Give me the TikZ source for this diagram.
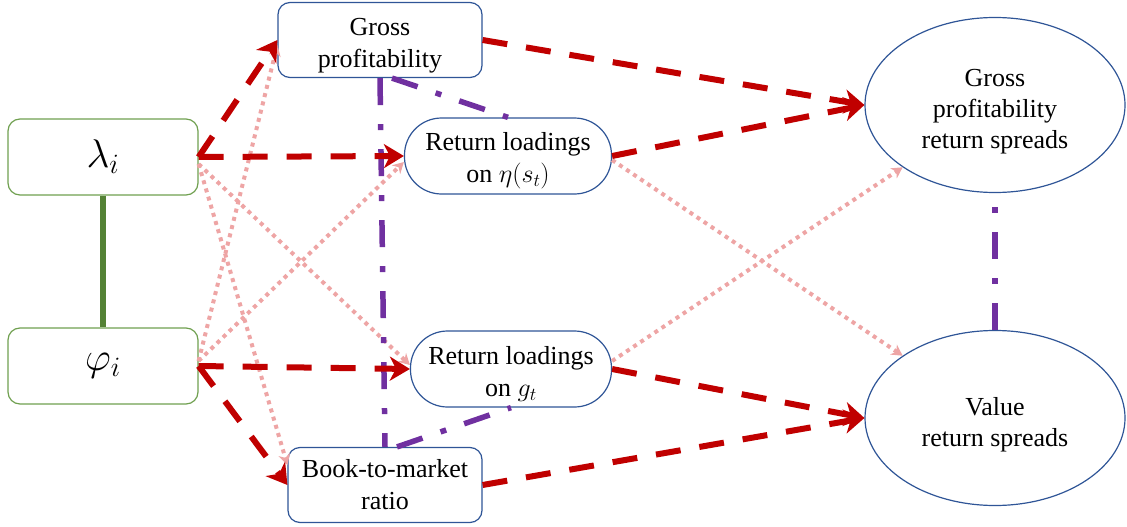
\RequirePackage{fix-cm}
\documentclass[tikz,border=0pt]{standalone}
\usepackage{fontspec}
\setmainfont{Liberation Serif}
\usetikzlibrary{shapes.geometric,arrows.meta}

\definecolor{krasn}{RGB}{192,0,0}
\definecolor{rozov}{RGB}{238,165,165}
\definecolor{fiol}{RGB}{112,48,160}
\definecolor{zel}{RGB}{84,130,53}
\definecolor{zelkr}{RGB}{112,160,80}
\definecolor{sin}{RGB}{47,85,151}
% невидимая подпорка для сдвига текста вниз
\newcommand\vstr[1]{\rule{0pt}{#1}}

\begin{document}
\begin{tikzpicture}
      [x=1pt,y=-1pt
    % стили узлов
      ,fac/.style={draw=zelkr,line width=1.2pt,rounded corners=12pt,fill=white,minimum width=190pt,minimum height=76pt,inner sep=0pt,font=\fontsize{40}{40}\selectfont}
      ,box/.style={draw=sin,line width=1.2pt,rounded corners=12pt,fill=white,align=center,inner sep=0pt,font=\fontsize{26}{32}\selectfont}
      ,pill/.style={box,rounded corners=37pt}
      ,ell/.style={draw=sin,line width=1.2pt,ellipse,fill=white,align=center,inner sep=0pt,minimum width=260pt,minimum height=175pt,font=\fontsize{26}{31}\selectfont}
    % стили линий
      ,rd/.style={draw=krasn,line width=6pt,dash pattern=on 25pt off 19pt,-{Stealth[length=20pt,width=24pt,inset=6pt]}}
      ,pk/.style={draw=rozov,line width=4pt,dash pattern=on 4pt off 4.5pt,-{Stealth[length=11pt,width=12pt]}}
      ,pu/.style={draw=fiol,line width=5.5pt,dash pattern=on 27pt off 19pt on 6pt off 19pt}
      ,gr/.style={draw=zel,line width=6pt}
      ]
        \useasboundingbox (0,0) rectangle (1127,527);

        \node[fac] (lam) at (103,157) {$\lambda_i$};
        \node[fac] (phi) at (103,366) {$\varphi_i$};
        \node[box,minimum width=204pt,minimum height=75pt] (gp) at (380,40) {\vstr{28pt}Gross\\profitability};
        \node[pill,minimum width=207pt,minimum height=76pt] (rleta) at (508,156) {\vstr{28pt}Return loadings\\on $\eta(s_t)$};
        \node[pill,minimum width=201pt,minimum height=76pt] (rlg) at (511,369) {\vstr{28pt}Return loadings\\on $g_t$};
        \node[box,minimum width=194pt,minimum height=75pt] (bm) at (385,485) {Book-to-market\\ratio};
        \node[ell] (gprs) at (995,105) {\vstr{30pt}Gross\\profitability\\return spreads};
        \node[ell] (vrs) at (995,418) {\vstr{32pt}Value\\return spreads};

        \draw[gr] (lam) -- (phi);

    % точечные связи
        \draw[pk] ([yshift=-7pt]lam.east) -- ([yshift=4pt]rlg.west);
        \draw[pk] ([yshift=-7pt]lam.east) -- ([yshift=20pt]bm.west);
        \draw[pk] ([yshift=5pt]phi.east) -- ([yshift=-6pt]rleta.west);
        \draw[pk] ([yshift=5pt]phi.east) -- ([yshift=-5pt]gp.west);
        \draw[pk] ([yshift=-4pt]rleta.east) -- (vrs.146);
        \draw[pk] ([yshift=8pt]rlg.east) -- (gprs.214);

    % штрихпунктир
        \draw[pu] (gp.south) -- (bm.north);
        \draw[pu] ([xshift=12pt]gp.south) -- (rleta.north);
        \draw[pu] ([xshift=12pt]bm.north) -- (rlg.south);
        \draw[pu] (vrs.north) -- (gprs.south);

    % пунктирные стрелки
        \draw[rd] (lam.east) -- (gp.west);
        \draw[rd] (lam.east) -- (rleta.west);
        \draw[rd] (phi.east) -- (rlg.west);
        \draw[rd] (phi.east) -- (bm.west);
        \draw[rd] (gp.east) -- (gprs.west);
        \draw[rd] (rleta.east) -- (gprs.west);
        \draw[rd] (rlg.east) -- (vrs.west);
        \draw[rd] (bm.east) -- (vrs.west);
       \end{tikzpicture}
\end{document}
